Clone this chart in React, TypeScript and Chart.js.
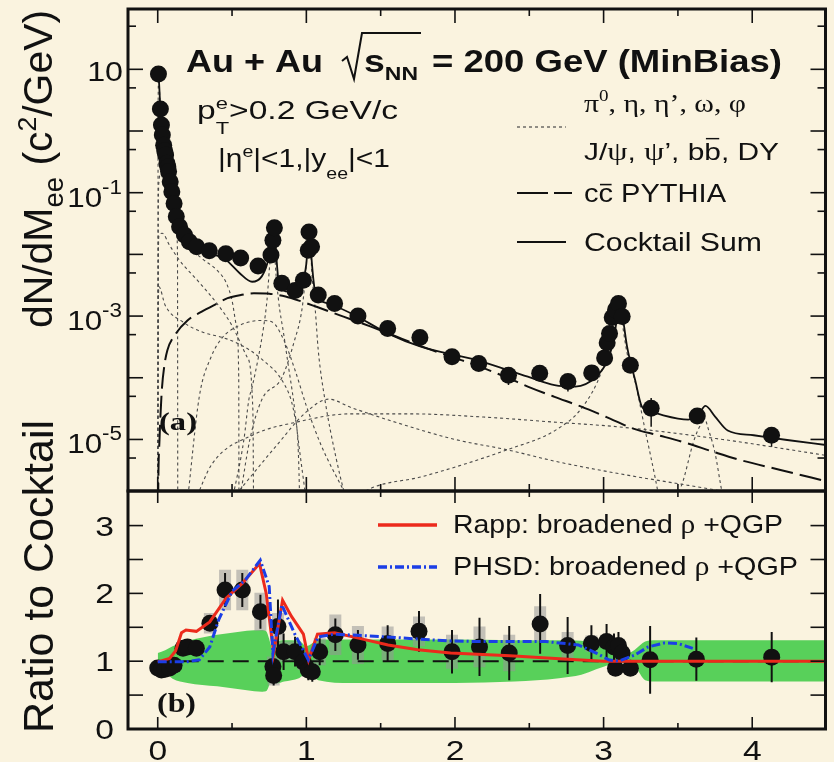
import React, { useEffect, useRef } from 'react';
import { Chart, registerables } from 'chart.js';
Chart.register(...registerables);

// ------------------------------------------------------------------ data
// (a) dielectron mass spectrum: data points
const topX = [0.005, 0.018, 0.025, 0.031, 0.04, 0.047, 0.053, 0.062, 0.068, 0.073, 0.084, 0.095, 0.11, 0.125, 0.147, 0.18, 0.213, 0.262, 0.347, 0.458, 0.558, 0.675, 0.762, 0.775, 0.785, 0.835, 0.924, 0.98, 1.013, 1.018, 1.035, 1.08, 1.19, 1.347, 1.547, 1.764, 1.98, 2.16, 2.36, 2.57, 2.76, 2.92, 3.007, 3.024, 3.04, 3.058, 3.08, 3.1, 3.125, 3.18, 3.32, 3.63, 4.13];
const topY = [8.4, 2.27, 1.25, 0.86, 0.59, 0.48, 0.41, 0.3, 0.26, 0.22, 0.15, 0.104, 0.067, 0.041, 0.028, 0.0206, 0.016, 0.0133, 0.0115, 0.0102, 0.0087, 0.0065, 0.0098, 0.017, 0.027, 0.0034, 0.0026, 0.0038, 0.0117, 0.023, 0.0133, 0.0022, 0.0016, 0.001, 0.00063, 0.00045, 0.00022, 0.00017, 0.00011, 0.000118, 0.000087, 0.00012, 0.00021, 0.00037, 0.00052, 0.00095, 0.00126, 0.0016, 0.00098, 0.00016, 0.000032, 0.000024, 0.0000117];
const topErrX = [1.98, 2.16, 2.36, 2.57, 2.76, 2.92, 3.18, 3.32, 3.63, 4.13];
const topErrLo = [1.8e-4, 1.35e-4, 7.6e-5, 9e-5, 6e-5, 9.5e-5, 1.3e-4, 1.6e-5, 1.8e-5, 7.6e-6];
const topErrHi = [2.6e-4, 2.1e-4, 1.4e-4, 1.5e-4, 1.1e-4, 1.45e-4, 1.9e-4, 4.7e-5, 3.1e-5, 1.5e-5];

// cocktail sum
const sumX = [0.0, 0.005, 0.018, 0.03, 0.05, 0.075, 0.1, 0.125, 0.15, 0.2, 0.3, 0.4, 0.46, 0.55, 0.635, 0.7, 0.74, 0.765, 0.783, 0.8, 0.815, 0.88, 0.96, 1.0, 1.012, 1.02, 1.03, 1.047, 1.062, 1.15, 1.32, 1.55, 1.77, 2.14, 2.49, 2.67, 2.81, 2.95, 3.03, 3.07, 3.097, 3.11, 3.135, 3.158, 3.213, 3.258, 3.347, 3.57, 3.64, 3.685, 3.75, 3.835, 4.01, 4.235, 4.5];
const sumY = [9.0, 8.4, 2.2, 0.9, 0.4, 0.18, 0.09, 0.045, 0.028, 0.0165, 0.0115, 0.0095, 0.0081, 0.005, 0.0036, 0.0044, 0.0075, 0.015, 0.025, 0.008, 0.0034, 0.0025, 0.0032, 0.0071, 0.018, 0.025, 0.012, 0.004, 0.0023, 0.0016, 0.00105, 0.00052, 0.00032, 0.000195, 0.000104, 0.000076, 0.000072, 0.000104, 0.0002, 0.00045, 0.0012, 0.0018, 0.00076, 0.00032, 0.00009, 0.000034, 0.0000266, 0.000021, 0.000026, 0.000035, 0.0000235, 0.000014, 0.0000117, 0.0000098, 0.0000081];

// c cbar PYTHIA
const ccX = [0.0, 0.004, 0.012, 0.027, 0.045, 0.065, 0.117, 0.2, 0.293, 0.4, 0.47, 0.56, 0.647, 0.75, 0.86, 0.96, 1.073, 1.25, 1.43, 1.6, 1.78, 1.96, 2.14, 2.32, 2.49, 2.67, 2.85, 3.02, 3.2, 3.38, 3.56, 3.73, 3.91, 4.19, 4.5];
const ccY = [1e-7, 2e-6, 1e-5, 6e-5, 1.6e-4, 2.8e-4, 5e-4, 8.5e-4, 1.17e-3, 1.6e-3, 1.95e-3, 2.2e-3, 2.34e-3, 2.3e-3, 2.07e-3, 1.75e-3, 1.4e-3, 9.8e-4, 6.8e-4, 4.7e-4, 3.2e-4, 2.25e-4, 1.6e-4, 1.08e-4, 7.2e-5, 4.9e-5, 3.4e-5, 2.3e-5, 1.5e-5, 1.15e-5, 8.7e-6, 6.4e-6, 4.7e-6, 3.2e-6, 2.1e-6];

// cocktail components (dotted)
const pi0X = [0.0, 0.003, 0.006, 0.018, 0.03, 0.05, 0.07, 0.09, 0.11, 0.125, 0.13, 0.133, 0.135];
const pi0Y = [1e-7, 3, 8, 2.1, 0.75, 0.3, 0.14, 0.075, 0.045, 0.028, 0.018, 0.008, 1e-7];
const etaX = [0.0, 0.004, 0.008, 0.02, 0.05, 0.1, 0.15, 0.2, 0.3, 0.4, 0.46, 0.5, 0.53, 0.545, 0.547];
const etaY = [1e-7, 0.05, 0.15, 0.2, 0.12, 0.05, 0.025, 0.0145, 0.0085, 0.0055, 0.0035, 0.0018, 0.0007, 0.0001, 1e-7];
const omDalX = [0.0, 0.004, 0.008, 0.03, 0.08, 0.147, 0.28, 0.39, 0.5, 0.6, 0.64, 0.647];
const omDalY = [1e-7, 0.006, 0.02, 0.022, 0.014, 0.008, 0.0035, 0.0017, 0.0007, 0.00022, 0.00003, 1e-7];
const etapX = [0.0, 0.004, 0.008, 0.05, 0.17, 0.3, 0.436, 0.55, 0.7, 0.85, 0.92, 0.955, 0.958];
const etapY = [1e-7, 0.001, 0.003, 0.0015, 0.0008, 0.00055, 0.00045, 0.00035, 0.0002, 0.00008, 0.000025, 0.000001, 1e-7];
const rhoX = [0.2, 0.28, 0.36, 0.436, 0.52, 0.613, 0.7, 0.77, 0.85, 0.93, 1.0, 1.1, 1.25, 1.4];
const rhoY = [1e-6, 5e-5, 2.2e-4, 4.5e-4, 6.5e-4, 8e-4, 8.5e-4, 8e-4, 4e-4, 1.2e-4, 3.5e-5, 8e-6, 1.5e-6, 3e-7];
const omX = [0.5, 0.58, 0.613, 0.635, 0.713, 0.735, 0.758, 0.783, 0.79, 0.813, 0.847, 0.88, 0.913, 0.95, 1.0];
const omY = [1e-6, 1e-5, 4.4e-5, 7e-5, 6.8e-4, 1.8e-3, 9e-3, 0.022, 8e-3, 1.8e-3, 5.2e-4, 1.5e-4, 4.4e-5, 8e-6, 1e-6];
const phiX = [0.55, 0.62, 0.7, 0.835, 0.92, 0.97, 0.99, 1.019, 1.04, 1.06, 1.08, 1.125, 1.2, 1.3];
const phiY = [1e-6, 1e-5, 4.4e-5, 1e-4, 4e-4, 1.26e-3, 3.4e-3, 0.022, 4e-3, 1.26e-3, 2.8e-4, 4.4e-5, 5e-6, 5e-7];
const jpsiX = [1.3, 1.43, 1.78, 2.35, 2.68, 2.86, 2.99, 3.05, 3.097, 3.12, 3.158, 3.21, 3.28, 3.35, 3.4];
const jpsiY = [1e-6, 1.6e-6, 2.5e-6, 6.8e-6, 1.43e-5, 3.4e-5, 1.35e-4, 5e-4, 1.6e-3, 9e-4, 2.5e-4, 9e-5, 1.4e-5, 2.2e-6, 5e-7];
const psi2X = [3.3, 3.52, 3.61, 3.658, 3.686, 3.7, 3.75, 3.79, 3.85];
const psi2Y = [5e-7, 1.7e-6, 1e-5, 1.8e-5, 2e-5, 1.6e-5, 6e-6, 1.7e-6, 3e-7];
const bbX = [0.25, 0.365, 0.647, 0.93, 1.3, 1.7, 2.2, 2.68, 3.1, 3.8, 4.5];
const bbY = [1e-6, 4e-6, 1.2e-5, 1.9e-5, 2.6e-5, 2.6e-5, 2.3e-5, 1.9e-5, 1.6e-5, 1.0e-5, 5.5e-6];
const dyX = [0.55, 0.8, 1.0, 1.15, 1.3, 1.6, 2.0, 2.35, 2.68, 3.1, 3.57, 4.0, 4.5];
const dyY = [1.5e-6, 8e-6, 2.8e-5, 4.5e-5, 3.3e-5, 1.9e-5, 1e-5, 6.8e-6, 4.4e-6, 2.8e-6, 1.8e-6, 1.2e-6, 7e-7];

// (b) ratio to cocktail
const ratioX = [0.0, 0.025, 0.05, 0.08, 0.11, 0.17, 0.2, 0.26, 0.351, 0.453, 0.569, 0.691, 0.775, 0.78, 0.809, 0.847, 0.924, 0.98, 1.013, 1.04, 1.09, 1.195, 1.347, 1.547, 1.758, 1.98, 2.165, 2.365, 2.573, 2.758, 2.918, 3.02, 3.07, 3.08, 3.1, 3.124, 3.18, 3.313, 3.624, 4.131];
const ratioY = [0.9, 0.87, 0.88, 0.9, 0.94, 1.19, 1.21, 1.19, 1.56, 2.05, 2.05, 1.73, 0.92, 0.79, 1.51, 1.14, 1.14, 0.99, 0.87, 0.845, 1.14, 1.39, 1.24, 1.26, 1.44, 1.14, 1.21, 1.12, 1.55, 1.23, 1.26, 1.29, 1.21, 0.895, 1.23, 1.12, 0.895, 1.02, 1.03, 1.06];
const statErr = [0.04, 0.04, 0.04, 0.04, 0.05, 0.06, 0.06, 0.06, 0.1, 0.25, 0.25, 0.25, 0.2, 0.15, 0.4, 0.27, 0.22, 0.2, 0.15, 0.15, 0.2, 0.24, 0.22, 0.27, 0.3, 0.32, 0.43, 0.4, 0.44, 0.42, 0.27, 0.26, 0.2, 0.1, 0.2, 0.1, 0.1, 0.5, 0.32, 0.37];
const sysErr = [0.03, 0.03, 0.03, 0.03, 0.03, 0.05, 0.05, 0.05, 0.15, 0.3, 0.3, 0.28, 0.15, 0.15, 0.2, 0.15, 0.15, 0.12, 0.1, 0.1, 0.2, 0.3, 0.28, 0.25, 0.22, 0.25, 0.3, 0.27, 0.26, 0.2, 0.12, 0.1, 0.1, 0.08, 0.1, 0.08, 0.08, 0.1, 0.1, 0.1];

const bandX = [0.0, 0.05, 0.1, 0.2, 0.3, 0.4, 0.5, 0.6, 0.7, 0.73, 0.76, 0.78, 0.8, 0.85, 0.95, 1.0, 1.03, 1.08, 1.3, 1.6, 2.0, 2.4, 2.7, 2.85, 2.95, 3.05, 3.1, 3.15, 3.21, 3.28, 3.35, 3.6, 4.0, 4.5];
const bandHi = [1.12, 1.16, 1.22, 1.3, 1.35, 1.39, 1.42, 1.45, 1.46, 1.44, 1.25, 1.1, 1.28, 1.31, 1.3, 1.22, 1.25, 1.32, 1.32, 1.32, 1.32, 1.31, 1.31, 1.3, 1.24, 1.14, 1.09, 1.1, 1.17, 1.29, 1.31, 1.31, 1.31, 1.31];
const bandLo = [1.02, 0.85, 0.74, 0.68, 0.65, 0.63, 0.6, 0.57, 0.55, 0.56, 0.72, 0.9, 0.67, 0.7, 0.75, 0.82, 0.78, 0.72, 0.68, 0.68, 0.68, 0.7, 0.75, 0.8, 0.88, 0.96, 0.99, 0.96, 0.92, 0.72, 0.7, 0.7, 0.7, 0.7];

const rappX = [0.0, 0.08, 0.12, 0.16, 0.19, 0.26, 0.35, 0.46, 0.57, 0.685, 0.73, 0.78, 0.84, 0.9, 0.98, 1.015, 1.075, 1.19, 1.35, 1.55, 1.75, 1.97, 2.37, 2.76, 3.0, 3.1, 3.3, 4.5];
const rappY = [0.99, 1.04, 1.15, 1.42, 1.46, 1.44, 1.58, 1.93, 2.15, 2.44, 2.0, 1.12, 1.9, 1.66, 1.4, 1.02, 1.4, 1.42, 1.34, 1.24, 1.17, 1.12, 1.08, 1.03, 1.0, 1.0, 1.0, 1.0];
const phsdX = [0.0, 0.19, 0.28, 0.35, 0.41, 0.5, 0.59, 0.69, 0.75, 0.775, 0.835, 0.92, 1.013, 1.08, 1.19, 1.52, 1.95, 2.15, 2.61, 2.83, 2.95, 3.035, 3.1, 3.21, 3.3, 3.41, 3.5, 3.6];
const phsdY = [0.99, 0.99, 1.02, 1.21, 1.61, 2.03, 2.2, 2.49, 2.1, 1.12, 1.83, 1.41, 1.02, 1.36, 1.4, 1.36, 1.3, 1.29, 1.29, 1.24, 1.12, 1.02, 1.0, 1.09, 1.21, 1.27, 1.26, 1.19];
const unityX = [0.0, 4.5];
const unityY = [1, 1];

// ticks
const xTickMajor = [0, 1, 2, 3, 4];
const xTickMinor = [0.5, 1.5, 2.5, 3.5];
const xTickLabels = ['0', '1', '2', '3', '4'];
const yTopMajor = [1e-5, 1e-4, 1e-3, 1e-2, 0.1, 1, 10];
const yTopMinor = [5e-6, 5e-5, 5e-4, 5e-3, 0.05, 0.5, 5, 50];
const yTopLabelVals = [10, 0.1, 1e-3, 1e-5];
const yTopLabelExp = ['', '-1', '-3', '-5'];
const yBotMajor = [1, 2, 3];
const yBotMinor = [0.5, 1.5, 2.5];
const yBotLabelVals = [0, 1, 2, 3];
const yBotLabels = ['0', '1', '2', '3'];

// ------------------------------------------------------------------ style
const W = 834, H = 762;
const BG = '#faf3df';
const INK = '#111111';
const RED = '#ec2a1c';
const BLUE = '#1b3ee6';
const GREEN = '#58d05a';
const SANS = '"Liberation Sans", Arial, Helvetica, sans-serif';
const SERIF = '"Liberation Serif", "Times New Roman", Times, serif';
const X_MIN = -0.2, X_MAX = 4.493;
const YT_MIN = 1.46e-6, YT_MAX = 95;
const YB_MIN = 0, YB_MAX = 3.51;
const A_L = 128, A_R = 832, A_T = 9, A_M = 491, A_B = 729;

type Seg = { t: string; size: number; bold?: boolean; serif?: boolean; dy?: number; over?: boolean; overY?: number; stack?: boolean };

function fontOf(s: Seg) {
  return `${s.bold ? 'bold ' : ''}${s.size}px ${s.serif ? SERIF : SANS}`;
}

function drawRich(ctx: CanvasRenderingContext2D, segs: Seg[], x: number, y: number, o: { width?: number; sx?: number; align?: string } = {}) {
  ctx.save();
  const ws: number[] = [];
  const starts: number[] = [];
  let cx = 0;
  let maxEnd = 0;
  segs.forEach((s, i) => {
    ctx.font = fontOf(s);
    const w = ctx.measureText(s.t).width;
    ws.push(w);
    if (s.stack && i > 0) cx = starts[i - 1];
    starts.push(cx);
    cx += w;
    if (s.stack && i > 0) cx = Math.max(cx, starts[i - 1] + ws[i - 1]);
    maxEnd = Math.max(maxEnd, cx);
  });
  const sx = o.width ? o.width / maxEnd : (o.sx ?? 1);
  const full = maxEnd * sx;
  const align = o.align ?? 'left';
  const x0 = align === 'left' ? x : align === 'right' ? x - full : x - full / 2;
  ctx.translate(x0, y);
  ctx.scale(sx, 1);
  ctx.fillStyle = INK;
  ctx.textAlign = 'left';
  ctx.textBaseline = 'alphabetic';
  segs.forEach((s, i) => {
    ctx.font = fontOf(s);
    const dy = s.dy ?? 0;
    ctx.fillText(s.t, starts[i], dy);
    if (s.over) {
      const oy = dy - s.size * (s.overY ?? 0.7);
      ctx.fillRect(starts[i] + ws[i] * 0.1, oy, ws[i] * 0.8, Math.max(1.3, s.size * 0.06));
    }
  });
  ctx.restore();
}

function line(ctx: CanvasRenderingContext2D, x1: number, y1: number, x2: number, y2: number) {
  ctx.beginPath();
  ctx.moveTo(x1, y1);
  ctx.lineTo(x2, y2);
  ctx.stroke();
}

function xy(xs: number[], ys: number[]) {
  return xs.map((x, i) => ({ x, y: ys[i] }));
}
function vbars(xs: number[], lo: number[], hi: number[]) {
  const out: any[] = [];
  xs.forEach((x, i) => {
    out.push({ x, y: lo[i] }, { x, y: hi[i] }, { x, y: null });
  });
  return out;
}

function drawFrameTicks(chart: any, yMajor: number[], yMinor: number[], xMaj: number, xMin: number, yMaj: number, yMin: number) {
  const ctx = chart.ctx as CanvasRenderingContext2D;
  const a = chart.chartArea;
  const xs = chart.scales.x;
  const ys = chart.scales.y;
  ctx.save();
  ctx.strokeStyle = INK;
  ctx.lineWidth = 1.6;
  xTickMajor.forEach((v) => {
    const p = xs.getPixelForValue(v);
    line(ctx, p, a.top, p, a.top + xMaj);
    line(ctx, p, a.bottom, p, a.bottom - xMaj);
  });
  xTickMinor.forEach((v) => {
    const p = xs.getPixelForValue(v);
    line(ctx, p, a.top, p, a.top + xMin);
    line(ctx, p, a.bottom, p, a.bottom - xMin);
  });
  yMajor.forEach((v) => {
    const p = ys.getPixelForValue(v);
    line(ctx, a.left, p, a.left + yMaj, p);
    line(ctx, a.right, p, a.right - yMaj, p);
  });
  yMinor.forEach((v) => {
    const p = ys.getPixelForValue(v);
    line(ctx, a.left, p, a.left + yMin, p);
    line(ctx, a.right, p, a.right - yMin, p);
  });
  ctx.lineWidth = 3;
  ctx.strokeRect(a.left, a.top, a.right - a.left, a.bottom - a.top);
  ctx.restore();
}

const topDecor = {
  id: 'topDecor',
  afterDraw(chart: any) {
    const ctx = chart.ctx as CanvasRenderingContext2D;
    const ys = chart.scales.y;
    drawFrameTicks(chart, yTopMajor, yTopMinor, 14, 7, 15, 8);

    // y tick labels
    yTopLabelVals.forEach((v, i) => {
      const p = ys.getPixelForValue(v);
      const e = yTopLabelExp[i];
      if (!e) drawRich(ctx, [{ t: '10', size: 28 }], 123, p + 12, { align: 'right', sx: 1.15 });
      else drawRich(ctx, [{ t: '10', size: 28 }, { t: e, size: 20, dy: -13 }], 122, p + 14, { align: 'right', sx: 1.12 });
    });

    // y title
    ctx.save();
    ctx.translate(52, 328);
    ctx.rotate(-Math.PI / 2);
    drawRich(ctx, [
      { t: 'dN/dM', size: 40 },
      { t: 'ee', size: 27, dy: 11 },
      { t: ' (c', size: 40 },
      { t: '2', size: 26, dy: -16 },
      { t: '/GeV)', size: 40 },
    ], 0, 0, { width: 318 });
    ctx.restore();

    // header
    drawRich(ctx, [{ t: 'Au + Au', size: 31, bold: true }], 186, 72, { width: 137 });
    ctx.save();
    ctx.strokeStyle = INK;
    ctx.lineWidth = 2;
    ctx.beginPath();
    ctx.moveTo(342, 61);
    ctx.lineTo(347, 57);
    ctx.lineTo(354, 79);
    ctx.lineTo(362, 33);
    ctx.lineTo(421, 33);
    ctx.stroke();
    ctx.restore();
    drawRich(ctx, [{ t: 's', size: 31, bold: true }, { t: 'NN', size: 19, bold: true, dy: 8 }], 364, 72, { width: 54 });
    drawRich(ctx, [{ t: '= 200 GeV (MinBias)', size: 31, bold: true }], 432, 72, { width: 350 });

    drawRich(ctx, [
      { t: 'p', size: 26 },
      { t: 'e', size: 17, dy: -10 },
      { t: 'T', size: 17, dy: 15, stack: true },
      { t: '>0.2 GeV/c', size: 26 },
    ], 197, 119, { width: 201 });
    drawRich(ctx, [
      { t: '|η', size: 26 },
      { t: 'e', size: 17, dy: -10 },
      { t: '|<1,|y', size: 26 },
      { t: 'ee', size: 17, dy: 12 },
      { t: '|<1', size: 26 },
    ], 218, 167, { width: 172 });

    // legend
    ctx.save();
    ctx.strokeStyle = '#4a4a4a';
    ctx.lineWidth = 1.2;
    ctx.setLineDash([3, 3]);
    line(ctx, 517, 127, 566, 127);
    ctx.strokeStyle = INK;
    ctx.lineWidth = 2;
    ctx.setLineDash([31, 6]);
    line(ctx, 517, 193, 572, 193);
    ctx.setLineDash([]);
    ctx.lineWidth = 1.8;
    line(ctx, 517, 242, 566, 242);
    ctx.restore();

    drawRich(ctx, [
      { t: 'π', size: 25, serif: true },
      { t: '0', size: 16, serif: true, dy: -11 },
      { t: ', η, η’, ω, φ', size: 25, serif: true },
    ], 584, 112, { width: 162 });
    drawRich(ctx, [
      { t: 'J/', size: 24 },
      { t: 'ψ', size: 26, serif: true },
      { t: ', ', size: 24 },
      { t: 'ψ', size: 26, serif: true },
      { t: '’, b', size: 24 },
      { t: 'b', size: 24, over: true, overY: 0.92 },
      { t: ', DY', size: 24 },
    ], 584, 160, { width: 195 });
    drawRich(ctx, [
      { t: 'c', size: 26 },
      { t: 'c', size: 26, over: true, overY: 0.7 },
      { t: ' PYTHIA', size: 26 },
    ], 584, 202, { width: 142 });
    drawRich(ctx, [{ t: 'Cocktail Sum', size: 26 }], 584, 251, { width: 178 });

    drawRich(ctx, [{ t: '(a)', size: 25, bold: true, serif: true }], 159, 430, { width: 38 });
  },
};

const botDecor = {
  id: 'botDecor',
  afterDraw(chart: any) {
    const ctx = chart.ctx as CanvasRenderingContext2D;
    const xs = chart.scales.x;
    const ys = chart.scales.y;
    drawFrameTicks(chart, yBotMajor, yBotMinor, 12, 6, 15, 15);

    xTickMajor.forEach((v, i) => {
      drawRich(ctx, [{ t: xTickLabels[i], size: 28 }], xs.getPixelForValue(v), 760, { align: 'center', sx: 1.2 });
    });
    yBotLabelVals.forEach((v, i) => {
      drawRich(ctx, [{ t: yBotLabels[i], size: 28 }], 114, ys.getPixelForValue(v) + 10, { align: 'right', sx: 1.2 });
    });

    ctx.save();
    ctx.translate(53, 733);
    ctx.rotate(-Math.PI / 2);
    drawRich(ctx, [{ t: 'Ratio to Cocktail', size: 43 }], 0, 0, { width: 313 });
    ctx.restore();

    // legend
    ctx.save();
    ctx.lineWidth = 3.5;
    ctx.strokeStyle = RED;
    line(ctx, 378, 525, 437, 525);
    ctx.strokeStyle = BLUE;
    ctx.setLineDash([9, 3, 2, 3]);
    line(ctx, 378, 567, 437, 567);
    ctx.restore();
    drawRich(ctx, [
      { t: 'Rapp: broadened ', size: 26 },
      { t: 'ρ', size: 27, serif: true },
      { t: ' +QGP', size: 26 },
    ], 453, 533, { width: 330 });
    drawRich(ctx, [
      { t: 'PHSD: broadened ', size: 26 },
      { t: 'ρ', size: 27, serif: true },
      { t: ' +QGP', size: 26 },
    ], 453, 575, { width: 345 });

    drawRich(ctx, [{ t: '(b)', size: 27, bold: true, serif: true }], 157, 712, { width: 39 });
  },
};

function dotted(label: string, xs: number[], ys: number[]) {
  return {
    label,
    data: xy(xs, ys),
    borderColor: '#4a4a4a',
    borderWidth: 1.1,
    borderDash: [3, 3],
    pointRadius: 0,
    cubicInterpolationMode: 'monotone',
    fill: false,
    order: 10,
  };
}

function topConfig(): any {
  return {
    type: 'line',
    data: {
      datasets: [
        { label: 'PHENIX data', data: xy(topX, topY), showLine: false, pointRadius: 8.5, pointBackgroundColor: INK, pointBorderColor: INK, pointBorderWidth: 0, order: 0 },
        { label: 'stat', data: vbars(topErrX, topErrLo, topErrHi), borderColor: INK, borderWidth: 1.5, pointRadius: 0, spanGaps: false, order: 1 },
        { label: 'Cocktail Sum', data: xy(sumX, sumY), borderColor: INK, borderWidth: 1.8, pointRadius: 0, cubicInterpolationMode: 'monotone', order: 2 },
        { label: 'cc PYTHIA', data: xy(ccX, ccY), borderColor: INK, borderWidth: 2, borderDash: [22, 7], pointRadius: 0, cubicInterpolationMode: 'monotone', order: 3 },
        dotted('pi0', pi0X, pi0Y),
        dotted('eta', etaX, etaY),
        dotted('omega Dalitz', omDalX, omDalY),
        dotted('eta prime', etapX, etapY),
        dotted('rho', rhoX, rhoY),
        dotted('omega', omX, omY),
        dotted('phi', phiX, phiY),
        dotted('J/psi', jpsiX, jpsiY),
        dotted('psi prime', psi2X, psi2Y),
        dotted('bb', bbX, bbY),
        dotted('DY', dyX, dyY),
      ],
    },
    options: {
      responsive: false,
      animation: false,
      devicePixelRatio: 1,
      events: [],
      layout: { padding: { left: A_L, top: A_T, right: W - A_R, bottom: H - A_M } },
      scales: {
        x: { type: 'linear', min: X_MIN, max: X_MAX, display: false, bounds: 'data' },
        y: { type: 'logarithmic', min: YT_MIN, max: YT_MAX, display: false },
      },
      plugins: { legend: { display: false }, tooltip: { enabled: false } },
    },
    plugins: [topDecor],
  };
}

function botConfig(): any {
  const statLo = ratioY.map((v, i) => v - statErr[i]);
  const statHi = ratioY.map((v, i) => v + statErr[i]);
  const sysLo = ratioY.map((v, i) => v - sysErr[i]);
  const sysHi = ratioY.map((v, i) => v + sysErr[i]);
  return {
    type: 'line',
    data: {
      datasets: [
        { label: 'PHSD: broadened rho +QGP', data: xy(phsdX, phsdY), borderColor: BLUE, borderWidth: 3, borderDash: [9, 3, 2, 3], pointRadius: 0, order: 0 },
        { label: 'Rapp: broadened rho +QGP', data: xy(rappX, rappY), borderColor: RED, borderWidth: 3, pointRadius: 0, order: 1 },
        { label: 'ratio', data: xy(ratioX, ratioY), showLine: false, pointRadius: 8.5, pointBackgroundColor: INK, pointBorderColor: INK, pointBorderWidth: 0, order: 2 },
        { label: 'stat', data: vbars(ratioX, statLo, statHi), borderColor: INK, borderWidth: 2, pointRadius: 0, spanGaps: false, order: 3 },
        { label: 'unity', data: xy(unityX, unityY), borderColor: INK, borderWidth: 2, borderDash: [16, 9], pointRadius: 0, order: 4 },
        { label: 'sys', data: vbars(ratioX, sysLo, sysHi), borderColor: 'rgba(150,150,150,0.55)', borderWidth: 12, borderCapStyle: 'butt', pointRadius: 0, spanGaps: false, order: 5 },
        { label: 'band hi', data: xy(bandX, bandHi), borderColor: 'rgba(0,0,0,0)', borderWidth: 0, backgroundColor: GREEN, fill: '+1', pointRadius: 0, cubicInterpolationMode: 'monotone', order: 6 },
        { label: 'band lo', data: xy(bandX, bandLo), borderColor: 'rgba(0,0,0,0)', borderWidth: 0, fill: false, pointRadius: 0, cubicInterpolationMode: 'monotone', order: 7 },
      ],
    },
    options: {
      responsive: false,
      animation: false,
      devicePixelRatio: 1,
      events: [],
      layout: { padding: { left: A_L, top: A_M, right: W - A_R, bottom: H - A_B } },
      scales: {
        x: { type: 'linear', min: X_MIN, max: X_MAX, display: false, bounds: 'data' },
        y: { type: 'linear', min: YB_MIN, max: YB_MAX, display: false, bounds: 'data' },
      },
      plugins: { legend: { display: false }, tooltip: { enabled: false } },
    },
    plugins: [botDecor],
  };
}

export default function App() {
  const topRef = useRef<HTMLCanvasElement>(null);
  const botRef = useRef<HTMLCanvasElement>(null);
  useEffect(() => {
    const b = new Chart(botRef.current as HTMLCanvasElement, botConfig());
    const t = new Chart(topRef.current as HTMLCanvasElement, topConfig());
    return () => {
      t.destroy();
      b.destroy();
    };
  }, []);
  const cs: any = { position: 'absolute', left: 0, top: 0, width: W, height: H };
  return (
    <div style={{ position: 'fixed', left: 0, top: 0, width: W, height: H, background: BG, overflow: 'hidden' }}>
      <canvas ref={botRef} width={W} height={H} style={cs} />
      <canvas ref={topRef} width={W} height={H} style={cs} />
    </div>
  );
}
